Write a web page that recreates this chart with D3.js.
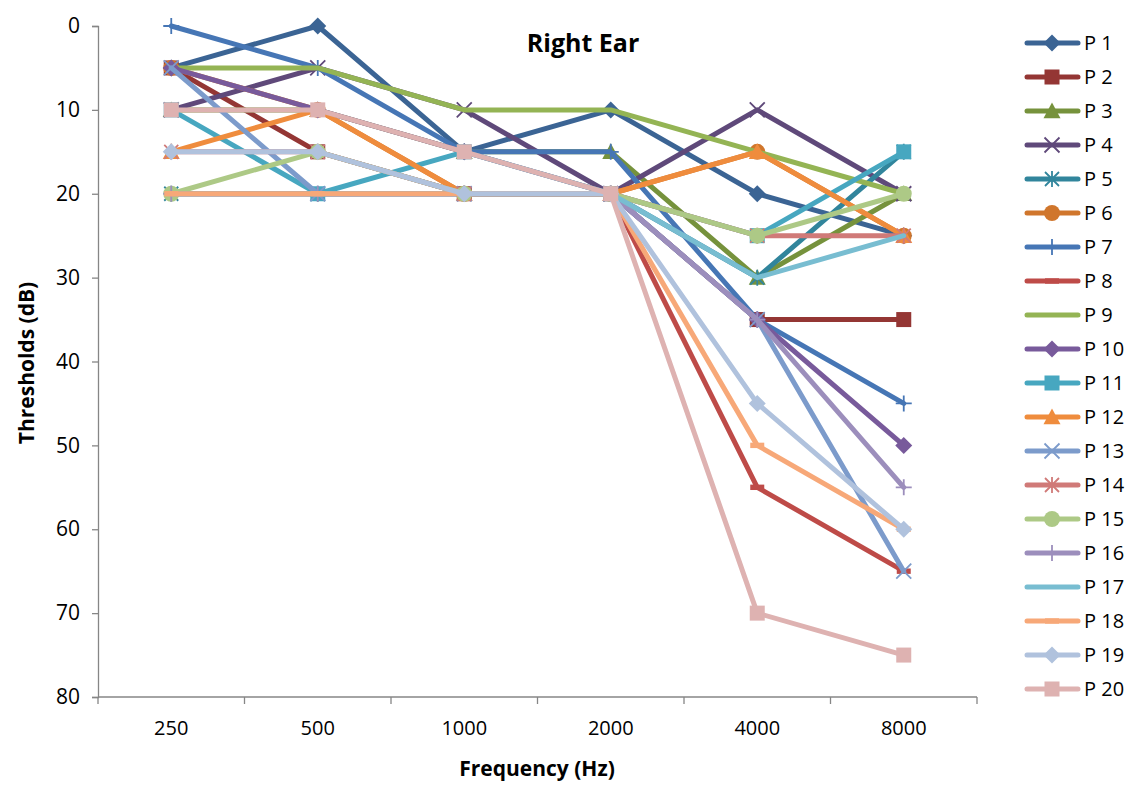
<!DOCTYPE html>
<html>
<head>
<meta charset="utf-8">
<script src="https://cdn.jsdelivr.net/npm/d3@7"></script>
<style>
  html, body { margin: 0; padding: 0; background: #fff; }
  svg { display: block; font-family: "Open Sans", "Liberation Sans", sans-serif; }
</style>
</head>
<body>
<svg id="chart" width="1136" height="793"></svg>
<script>
// Audiometric thresholds per participant (dB HL), right ear
const frequencies = ["250", "500", "1000", "2000", "4000", "8000"];
const yTicks = [0, 10, 20, 30, 40, 50, 60, 70, 80];
const seriesNames = ["P 1","P 2","P 3","P 4","P 5","P 6","P 7","P 8","P 9","P 10",
                     "P 11","P 12","P 13","P 14","P 15","P 16","P 17","P 18","P 19","P 20"];

const p1  = [5, 0, 15, 10, 20, 25];
const p2  = [5, 15, 20, 20, 35, 35];
const p3  = [10, 10, 15, 15, 30, 20];
const p4  = [10, 5, 10, 20, 10, 20];
const p5  = [20, 20, 20, 20, 30, 15];
const p6  = [5, 10, 20, 20, 15, 25];
const p7  = [0, 5, 15, 15, 35, 45];
const p8  = [20, 20, 20, 20, 55, 65];
const p9  = [5, 5, 10, 10, 15, 20];
const p10 = [5, 10, 15, 20, 35, 50];
const p11 = [10, 20, 15, 20, 25, 15];
const p12 = [15, 10, 20, 20, 15, 25];
const p13 = [5, 20, 20, 20, 35, 65];
const p14 = [15, 15, 20, 20, 25, 25];
const p15 = [20, 15, 20, 20, 25, 20];
const p16 = [20, 20, 20, 20, 35, 55];
const p17 = [20, 20, 20, 20, 30, 25];
const p18 = [20, 20, 20, 20, 50, 60];
const p19 = [15, 15, 20, 20, 45, 60];
const p20 = [10, 10, 15, 20, 70, 75];

const seriesValues = [p1,p2,p3,p4,p5,p6,p7,p8,p9,p10,p11,p12,p13,p14,p15,p16,p17,p18,p19,p20];

const colors = ["#3B6494","#943634","#76923C","#5F497A","#31859C","#D0762C","#4676B5","#BE4B48",
                "#94B454","#785A9B","#47A7C0","#EF8C3D","#7C9BCB","#D07A78","#ADC986","#9C8EBC",
                "#78BDD1","#F7A878","#B0C2DD","#DEB2B1"];
const markers = ["diamond","square","triangle","x","star","circle","plus","dash","none",
                 "diamond","square","triangle","x","star","circle","plus","none","dash",
                 "diamond","square"];

const svg = d3.select("#chart");
const plot = { left: 98, right: 977, top: 26, bottom: 697 };

const x = d3.scaleBand().domain(frequencies).range([plot.left, plot.right]);
const y = d3.scaleLinear().domain([0, 80]).range([plot.top, plot.bottom]);

const axisColor = "#868686";
const labelSize = 20;

// Y axis
const yAxis = svg.append("g").attr("transform", `translate(${plot.left},0)`)
  .call(d3.axisLeft(y).tickValues(yTicks).tickSize(6).tickPadding(12));
yAxis.select(".domain").attr("stroke", axisColor).attr("stroke-width", 1.3);
yAxis.selectAll(".tick line").attr("stroke", axisColor).attr("stroke-width", 1.3);
yAxis.selectAll(".tick text").attr("font-size", 21).attr("fill", "#000")
  .attr("font-family", "'Open Sans', sans-serif");

// X axis: tick marks on category boundaries, labels at band centers
const xAxisG = svg.append("g").attr("transform", `translate(0,${plot.bottom})`);
xAxisG.append("line").attr("x1", plot.left).attr("x2", plot.right)
  .attr("y1", 0).attr("y2", 0).attr("stroke", axisColor).attr("stroke-width", 1.3);
const boundaries = frequencies.map(f => x(f)).concat([x(frequencies[frequencies.length - 1]) + x.bandwidth()]);
xAxisG.selectAll("line.tk").data(boundaries).enter().append("line")
  .attr("class", "tk")
  .attr("x1", d => d).attr("x2", d => d).attr("y1", 0).attr("y2", 7)
  .attr("stroke", axisColor).attr("stroke-width", 1.3);
xAxisG.selectAll("text").data(frequencies).enter().append("text")
  .attr("x", d => x(d) + x.bandwidth() / 2).attr("y", 38)
  .attr("text-anchor", "middle").attr("font-size", labelSize).text(d => d);

// Axis titles and chart title
svg.append("text").attr("x", 537).attr("y", 776).attr("text-anchor", "middle")
  .attr("font-size", 21).attr("font-weight", "bold").text("Frequency (Hz)");
svg.append("text").attr("transform", "translate(34,363) rotate(-90)")
  .attr("text-anchor", "middle").attr("font-size", 21).attr("font-weight", "bold")
  .text("Thresholds (dB)");
svg.append("text").attr("x", 583).attr("y", 52).attr("text-anchor", "middle")
  .attr("font-size", 25).attr("font-weight", "bold").text("Right Ear");

// Marker drawing
function drawMarker(g, type, cx, cy, color) {
  const m = g.append("g").attr("transform", `translate(${cx},${cy})`);
  if (type === "diamond") {
    const r = 8.5;
    m.append("path").attr("d", `M0,${-r}L${r},0L0,${r}L${-r},0Z`).attr("fill", color);
  } else if (type === "square") {
    const r = 7.5;
    m.append("rect").attr("x", -r).attr("y", -r).attr("width", 2 * r).attr("height", 2 * r).attr("fill", color);
  } else if (type === "triangle") {
    const r = 8.5;
    m.append("path").attr("d", `M0,${-r}L${r},${r * 0.85}L${-r},${r * 0.85}Z`).attr("fill", color);
  } else if (type === "circle") {
    m.append("circle").attr("r", 8).attr("fill", color);
  } else if (type === "x") {
    const r = 7.5;
    m.append("path").attr("d", `M${-r},${-r}L${r},${r}M${-r},${r}L${r},${-r}`)
      .attr("stroke", color).attr("stroke-width", 1.8).attr("fill", "none");
  } else if (type === "star") {
    const r = 7;
    m.append("path").attr("d", `M${-r},${-r}L${r},${r}M${-r},${r}L${r},${-r}M0,${-r - 1}L0,${r + 1}`)
      .attr("stroke", color).attr("stroke-width", 1.8).attr("fill", "none");
  } else if (type === "plus") {
    const r = 8;
    m.append("path").attr("d", `M${-r},0L${r},0M0,${-r}L0,${r}`)
      .attr("stroke", color).attr("stroke-width", 1.8).attr("fill", "none");
  } else if (type === "dash") {
    m.append("rect").attr("x", -7).attr("y", -2.7).attr("width", 14).attr("height", 5.4).attr("fill", color);
  }
}

// Series lines and markers, drawn in series order
const line = d3.line()
  .x((d, i) => x(frequencies[i]) + x.bandwidth() / 2)
  .y(d => y(d));

const seriesG = svg.append("g");
seriesValues.forEach((vals, s) => {
  const g = seriesG.append("g");
  g.append("path").datum(vals).attr("d", line)
    .attr("fill", "none").attr("stroke", colors[s]).attr("stroke-width", 5)
    .attr("stroke-linejoin", "round").attr("stroke-linecap", "round");
  vals.forEach((v, i) => drawMarker(g, markers[s], x(frequencies[i]) + x.bandwidth() / 2, y(v), colors[s]));
});

// Legend
const legend = svg.append("g");
seriesNames.forEach((name, s) => {
  const ly = 43 + 34 * s;
  const g = legend.append("g");
  g.append("line").attr("x1", 1027).attr("x2", 1078).attr("y1", ly).attr("y2", ly)
    .attr("stroke", colors[s]).attr("stroke-width", 5).attr("stroke-linecap", "round");
  drawMarker(g, markers[s], 1052, ly, colors[s]);
  g.append("text").attr("x", 1084).attr("y", ly + 7).attr("font-size", labelSize).text(name);
});
</script>
</body>
</html>
